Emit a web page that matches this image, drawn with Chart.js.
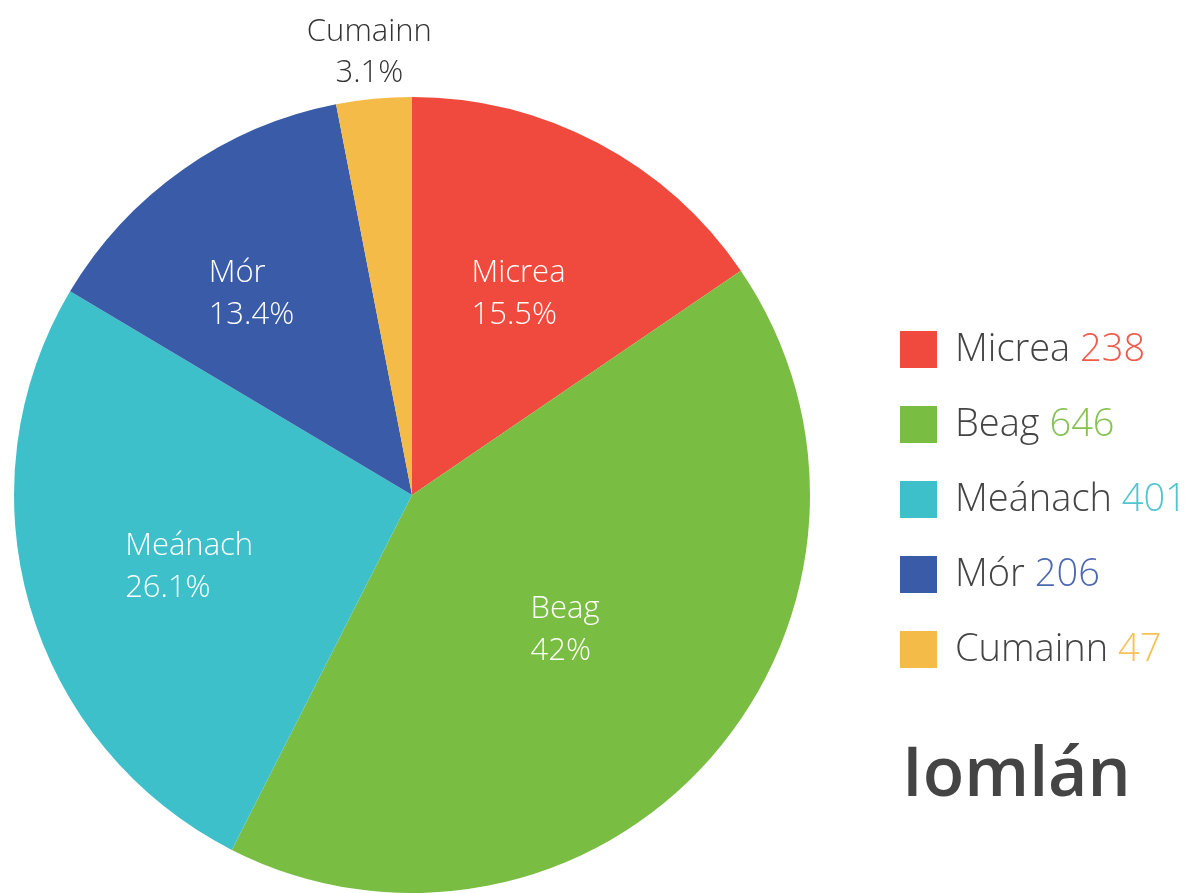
<!DOCTYPE html>
<html>
<head>
<meta charset="utf-8">
<script src="https://cdn.jsdelivr.net/npm/chart.js@4/dist/chart.umd.min.js"></script>
<style>
html,body{margin:0;padding:0;background:#fff;}
#wrap{position:relative;width:1192px;height:893px;}
</style>
</head>
<body>
<div id="wrap"><canvas id="c" width="1192" height="893"></canvas></div>
<script>
const categories = ["Micrea", "Beag", "Meánach", "Mór", "Cumainn"];
const counts = [238, 646, 401, 206, 47];
const percentLabels = ["15.5%", "42%", "26.1%", "13.4%", "3.1%"];
const colors = ["#EF4A3D", "#7ABD43", "#3EC0CB", "#3A5BA8", "#F4BB48"];
const valueColors = ["#EF5A4C", "#86C253", "#52C6D0", "#4D69B1", "#F5C25A"];
const title = "Iomlán";

const FONT = "'Open Sans', 'DejaVu Sans', sans-serif";
// radial placement of labels (fraction of radius) and small angular nudges (degrees)
const LABEL_RADIUS = [0.573, 0.512, 0.588, 0.648, 1.118];
const LABEL_NUDGE = [0, 0, -1.6, -3.4, 0];

const labelPlugin = {
  id: 'sliceLabels',
  afterDatasetsDraw(chart) {
    const ctx = chart.ctx;
    const meta = chart.getDatasetMeta(0);
    ctx.save();
    meta.data.forEach((arc, i) => {
      const mid = (arc.startAngle + arc.endAngle) / 2 + LABEL_NUDGE[i] * Math.PI / 180;
      const outside = (arc.endAngle - arc.startAngle) < 0.4;
      const r = arc.outerRadius * LABEL_RADIUS[i];
      const cx = arc.x + Math.cos(mid) * r;
      const cy = arc.y + Math.sin(mid) * r;
      ctx.font = "300 31px " + FONT;
      ctx.textBaseline = 'middle';
      const l1 = categories[i], l2 = percentLabels[i];
      const w = Math.max(ctx.measureText(l1).width, ctx.measureText(l2).width);
      ctx.fillStyle = outside ? '#333333' : '#ffffff';
      if (outside) {
        ctx.textAlign = 'center';
        ctx.fillText(l1, cx, cy - 20);
        ctx.fillText(l2, cx, cy + 21);
      } else {
        ctx.textAlign = 'left';
        ctx.fillText(l1, cx - w / 2, cy - 20);
        ctx.fillText(l2, cx - w / 2, cy + 22);
      }
    });
    // legend
    const lx = 900, ly0 = 331, step = 75;
    categories.forEach((c, i) => {
      const y = ly0 + i * step;
      ctx.fillStyle = colors[i];
      ctx.fillRect(lx, y, 37, 37);
      ctx.font = "300 38px " + FONT;
      ctx.textAlign = 'left';
      ctx.textBaseline = 'middle';
      ctx.fillStyle = '#444444';
      ctx.fillText(c + ' ', 955, y + 19);
      const w = ctx.measureText(c + ' ').width;
      ctx.fillStyle = valueColors[i];
      ctx.fillText(String(counts[i]), 955 + w, y + 19);
    });
    ctx.font = "600 68px " + FONT;
    ctx.fillStyle = '#444444';
    ctx.textAlign = 'left';
    ctx.textBaseline = 'alphabetic';
    ctx.fillText(title, 902, 796);
    ctx.restore();
  }
};

new Chart(document.getElementById('c'), {
  type: 'pie',
  data: {
    labels: categories,
    datasets: [{
      data: counts,
      backgroundColor: colors,
      borderWidth: 0
    }]
  },
  options: {
    responsive: false,
    animation: false,
    layout: { padding: { left: 14, right: 382, top: 97, bottom: 0 } },
    plugins: { legend: { display: false }, tooltip: { enabled: false } }
  },
  plugins: [labelPlugin]
});
</script>
</body>
</html>
